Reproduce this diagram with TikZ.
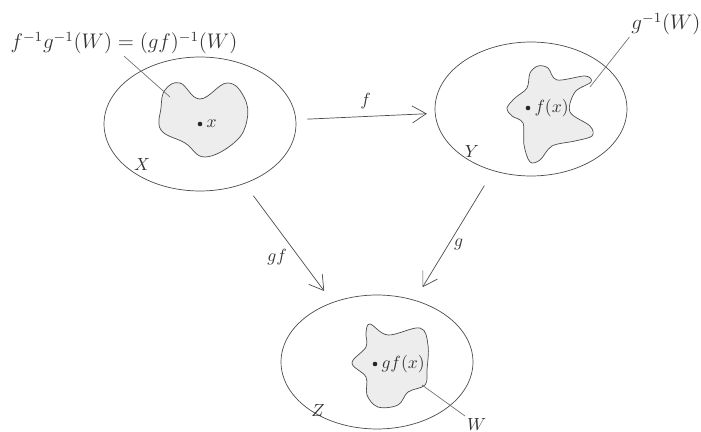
\documentclass[tikz,border=0pt]{standalone}
\usetikzlibrary{arrows.meta, positioning, shapes.geometric}

\begin{document}
\begin{tikzpicture}[
        x=0.02cm, y=-0.02cm,
        set/.style={ellipse, draw=black!70, minimum width=3.84cm, minimum height=2.68cm},
        arrow/.style={-{Straight Barb[length=2.8mm, width=3.4mm]}, draw=black!70}
    ]

    \tikzset{
    blob/.style={draw=black!70, fill=black!7},
    point/.style={circle, fill=black!85, inner sep=0pt, minimum size=2.6pt},
    leader/.style={draw=black!55},
    tag/.style={text=black!80, inner sep=1pt}
}

    \useasboundingbox (0,0) rectangle (701,432);

    % the three sets
    \node[set] (X) at (200,124) {};
    \node[set] (Y) at (531,109) {};
    \node[set] (Z) at (377,362) {};

    % preimages and W
    \draw[blob] plot[smooth cycle, tension=0.7] coordinates {
        (165,90) (180,83) (200,99) (227,83) (244,97) (247,120)
        (235,142) (205,157) (185,143) (161,130) (161,108)};
    \draw[blob] plot[smooth cycle, tension=0.55] coordinates {
        (538,66) (530,73) (527,88) (515,98) (507,108) (512,116)
        (523,123) (524,145) (530,162) (540,160) (552,146) (575,141)
        (592,136) (590,126) (570,112) (575,92) (591,82) (585,76)
        (557,80) (548,68)};
    \draw[blob] plot[smooth cycle, tension=0.6] coordinates {
        (370,324) (388,335) (420,328) (428,345) (427,370) (425,385)
        (408,392) (398,405) (378,407) (367,395) (366,377) (352,363)
        (366,347) (366,333)};

    % points
    \node[point] (x) at (200,124) {};
    \node[tag, right=1pt of x] (xl) {$x$};
    \node[point] (fx) at (528,108) {};
    \node[tag, right=1pt of fx] (fxl) {$f(x)$};
    \node[point] (gfx) at (375,364) {};
    \node[tag, right=1pt of gfx] (gfxl) {$gf(x)$};

    \node[tag] (labX) at (142,165) {$X$};
    \node[tag] (labY) at (472,152) {$Y$};
    \node[tag] (labZ) at (318,410) {$Z$};

    % maps
    \draw[arrow, shorten <=0.22cm, shorten >=0.16cm] (X) -- node[tag, above=3pt] {$f$} (Y);
    \draw[arrow, shorten <=0.3cm, shorten >=0.28cm] (X) -- node[tag, pos=0.62, left=0.2cm] {$gf$} (Z);
    \draw[arrow, shorten <=0.34cm, shorten >=0.3cm] (Y) -- node[tag, pos=0.57, right=2pt] {$g$} (Z);

    % leaders
    \coordinate (pX) at (170,97);
    \coordinate (pY) at (590,87);
    \coordinate (pZ) at (422,385);
    \node[tag, font=\large] (pre) at (124,43) {$f^{-1}g^{-1}(W) = (gf)^{-1}(W)$};
    \node[tag, font=\large] (ginv) at (666,24) {$g^{-1}(W)$};
    \node[tag, anchor=north west] (w) at (465,416) {$W$};
    \draw[leader] (pre.south) -- (pX);
    \draw[leader] (ginv.south west) -- (pY);
    \draw[leader] (w.north west) -- (pZ);
    \end{tikzpicture}
\end{document}
